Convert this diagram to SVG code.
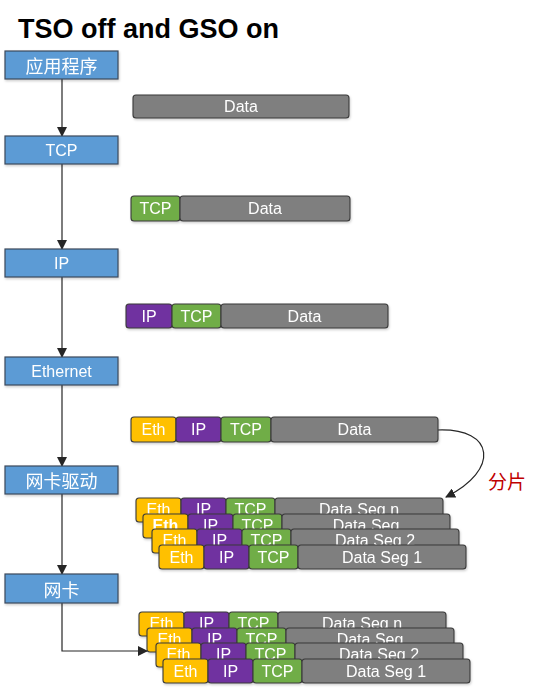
<svg xmlns="http://www.w3.org/2000/svg" width="541" height="692" viewBox="0 0 541 692">
<style>
.t{font-family:"Liberation Sans",Arial,sans-serif;font-size:16px;fill:#fff;text-anchor:middle;dominant-baseline:central}
.cn{font-family:"Noto Sans CJK SC","Liberation Sans",sans-serif;font-size:18px;fill:#fff;text-anchor:middle;dominant-baseline:central}
.box{fill:#5B9BD5;stroke:#3B4A5C;stroke-width:1.2}
.seg{stroke:#3A3A3A;stroke-width:1.1}
.eth{fill:#FFC000}.ip{fill:#7030A0}.tcp{fill:#70AD47}.dat{fill:#7F7F7F}
.ln{fill:none;stroke:#262626;stroke-width:1.2}
</style>
<defs>
<marker id="ah" markerWidth="10" markerHeight="10" viewBox="0 0 10 10" refX="9" refY="5" orient="auto" markerUnits="userSpaceOnUse">
<path d="M0,0 L10,5 L0,10 z" fill="#262626"/>
</marker>
<filter id="sh" x="-10%" y="-20%" width="120%" height="150%">
<feDropShadow dx="0.8" dy="1.5" stdDeviation="1" flood-color="#000" flood-opacity="0.2"/>
</filter>
</defs>
<rect width="541" height="692" fill="#fff"/>
<text x="18" y="38" font-family="Liberation Sans,Arial,sans-serif" font-weight="bold" font-size="27" fill="#000">TSO off and GSO on</text>

<g id="connectors">
<line class="ln" x1="62" y1="79" x2="62" y2="136" marker-end="url(#ah)"/>
<line class="ln" x1="62" y1="164" x2="62" y2="249" marker-end="url(#ah)"/>
<line class="ln" x1="62" y1="277" x2="62" y2="357" marker-end="url(#ah)"/>
<line class="ln" x1="62" y1="385" x2="62" y2="466" marker-end="url(#ah)"/>
<line class="ln" x1="62" y1="494" x2="62" y2="574" marker-end="url(#ah)"/>
<polyline class="ln" points="62,603 62,651 147,651" marker-end="url(#ah)"/>
<path class="ln" d="M438,430 C495,428 500,470 446,497" stroke="#555" marker-end="url(#ah)"/>
<text x="507" y="480" font-family="Noto Sans CJK SC,sans-serif" font-size="19" fill="#C00000" text-anchor="middle" dominant-baseline="central">分片</text>
</g>

<g id="app" filter="url(#sh)"><rect class="box" x="5" y="51" width="113" height="28"/><text class="cn" x="61.5" y="65">应用程序</text></g>
<g id="tcp" filter="url(#sh)"><rect class="box" x="5" y="136" width="113" height="28"/><text class="t" x="61.5" y="150">TCP</text></g>
<g id="ip" filter="url(#sh)"><rect class="box" x="5" y="249" width="113" height="28"/><text class="t" x="61.5" y="263">IP</text></g>
<g id="ethernet" filter="url(#sh)"><rect class="box" x="5" y="357" width="113" height="28"/><text class="t" x="61.5" y="371">Ethernet</text></g>
<g id="driver" filter="url(#sh)"><rect class="box" x="5" y="466" width="113" height="28"/><text class="cn" x="61.5" y="480">网卡驱动</text></g>
<g id="nic" filter="url(#sh)"><rect class="box" x="5" y="574" width="113" height="29"/><text class="cn" x="61.5" y="588.5">网卡</text></g>

<g id="pkt-data" filter="url(#sh)">
<rect class="seg dat" x="133" y="95" width="216" height="23" rx="3"/><text class="t" x="241" y="106.5">Data</text>
</g>
<g id="pkt-tcp" filter="url(#sh)">
<rect class="seg tcp" x="131" y="196" width="49" height="25" rx="3"/><text class="t" x="155.5" y="208.5">TCP</text>
<rect class="seg dat" x="180" y="196" width="170" height="25" rx="3"/><text class="t" x="265" y="208.5">Data</text>
</g>
<g id="pkt-ip" filter="url(#sh)">
<rect class="seg ip" x="126" y="304" width="46" height="24" rx="3"/><text class="t" x="149" y="316">IP</text>
<rect class="seg tcp" x="172" y="304" width="49" height="24" rx="3"/><text class="t" x="196.5" y="316">TCP</text>
<rect class="seg dat" x="221" y="304" width="167" height="24" rx="3"/><text class="t" x="304.5" y="316">Data</text>
</g>
<g id="pkt-eth" filter="url(#sh)">
<rect class="seg eth" x="131" y="417" width="45" height="25" rx="3"/><text class="t" x="153.5" y="429.5">Eth</text>
<rect class="seg ip" x="176" y="417" width="45" height="25" rx="3"/><text class="t" x="198.5" y="429.5">IP</text>
<rect class="seg tcp" x="221" y="417" width="50" height="25" rx="3"/><text class="t" x="246" y="429.5">TCP</text>
<rect class="seg dat" x="271" y="417" width="167" height="25" rx="3"/><text class="t" x="354.5" y="429.5">Data</text>
</g>

<g id="drv-seg-n" filter="url(#sh)" transform="translate(136,498)">
<rect class="seg eth" x="0" y="0" width="45" height="24" rx="3"/><text class="t" x="22.5" y="11">Eth</text>
<rect class="seg ip" x="45" y="0" width="45" height="24" rx="3"/><text class="t" x="67.5" y="11">IP</text>
<rect class="seg tcp" x="90" y="0" width="49" height="24" rx="3"/><text class="t" x="114.5" y="11">TCP</text>
<rect class="seg dat" x="139" y="0" width="168" height="24" rx="3"/><text class="t" x="223" y="11">Data Seg n</text>
</g>
<g id="drv-seg" filter="url(#sh)" transform="translate(143,514)">
<rect class="seg eth" x="0" y="0" width="45" height="24" rx="3"/><text class="t" x="22.5" y="11" font-weight="bold">Eth</text>
<rect class="seg ip" x="45" y="0" width="45" height="24" rx="3"/><text class="t" x="67.5" y="11">IP</text>
<rect class="seg tcp" x="90" y="0" width="49" height="24" rx="3"/><text class="t" x="114.5" y="11">TCP</text>
<rect class="seg dat" x="139" y="0" width="168" height="24" rx="3"/><text class="t" x="223" y="11">Data Seg</text>
</g>
<g id="drv-seg-2" filter="url(#sh)" transform="translate(152,529)">
<rect class="seg eth" x="0" y="0" width="45" height="24" rx="3"/><text class="t" x="22.5" y="11">Eth</text>
<rect class="seg ip" x="45" y="0" width="45" height="24" rx="3"/><text class="t" x="67.5" y="11">IP</text>
<rect class="seg tcp" x="90" y="0" width="49" height="24" rx="3"/><text class="t" x="114.5" y="11">TCP</text>
<rect class="seg dat" x="139" y="0" width="168" height="24" rx="3"/><text class="t" x="223" y="11">Data Seg 2</text>
</g>
<g id="drv-seg-1" filter="url(#sh)" transform="translate(159,545)">
<rect class="seg eth" x="0" y="0" width="45" height="24" rx="3"/><text class="t" x="22.5" y="12">Eth</text>
<rect class="seg ip" x="45" y="0" width="45" height="24" rx="3"/><text class="t" x="67.5" y="12">IP</text>
<rect class="seg tcp" x="90" y="0" width="49" height="24" rx="3"/><text class="t" x="114.5" y="12">TCP</text>
<rect class="seg dat" x="139" y="0" width="168" height="24" rx="3"/><text class="t" x="223" y="12">Data Seg 1</text>
</g>

<g id="nic-seg-n" filter="url(#sh)" transform="translate(139,612)">
<rect class="seg eth" x="0" y="0" width="45" height="24" rx="3"/><text class="t" x="22.5" y="11">Eth</text>
<rect class="seg ip" x="45" y="0" width="45" height="24" rx="3"/><text class="t" x="67.5" y="11">IP</text>
<rect class="seg tcp" x="90" y="0" width="49" height="24" rx="3"/><text class="t" x="114.5" y="11">TCP</text>
<rect class="seg dat" x="139" y="0" width="168" height="24" rx="3"/><text class="t" x="223" y="11">Data Seg n</text>
</g>
<g id="nic-seg" filter="url(#sh)" transform="translate(147,628)">
<rect class="seg eth" x="0" y="0" width="45" height="24" rx="3"/><text class="t" x="22.5" y="11">Eth</text>
<rect class="seg ip" x="45" y="0" width="45" height="24" rx="3"/><text class="t" x="67.5" y="11">IP</text>
<rect class="seg tcp" x="90" y="0" width="49" height="24" rx="3"/><text class="t" x="114.5" y="11">TCP</text>
<rect class="seg dat" x="139" y="0" width="168" height="24" rx="3"/><text class="t" x="223" y="11">Data Seg</text>
</g>
<g id="nic-seg-2" filter="url(#sh)" transform="translate(156,643)">
<rect class="seg eth" x="0" y="0" width="45" height="24" rx="3"/><text class="t" x="22.5" y="11">Eth</text>
<rect class="seg ip" x="45" y="0" width="45" height="24" rx="3"/><text class="t" x="67.5" y="11">IP</text>
<rect class="seg tcp" x="90" y="0" width="49" height="24" rx="3"/><text class="t" x="114.5" y="11">TCP</text>
<rect class="seg dat" x="139" y="0" width="168" height="24" rx="3"/><text class="t" x="223" y="11">Data Seg 2</text>
</g>
<g id="nic-seg-1" filter="url(#sh)" transform="translate(163,659)">
<rect class="seg eth" x="0" y="0" width="45" height="24" rx="3"/><text class="t" x="22.5" y="12">Eth</text>
<rect class="seg ip" x="45" y="0" width="45" height="24" rx="3"/><text class="t" x="67.5" y="12">IP</text>
<rect class="seg tcp" x="90" y="0" width="49" height="24" rx="3"/><text class="t" x="114.5" y="12">TCP</text>
<rect class="seg dat" x="139" y="0" width="168" height="24" rx="3"/><text class="t" x="223" y="12">Data Seg 1</text>
</g>
</svg>
